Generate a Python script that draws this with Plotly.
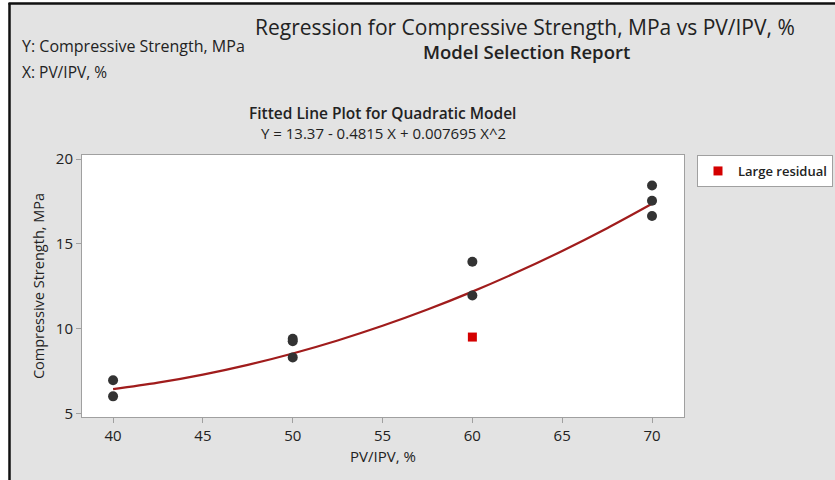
import plotly.graph_objects as go

# ---- data ----
pv_ipv = [40, 40, 50, 50, 50, 60, 60, 70, 70, 70]
strength = [6.95, 6.0, 9.4, 9.25, 8.3, 13.95, 11.95, 18.45, 17.55, 16.65]

resid_x = [60]
resid_y = [9.5]

fit_x = [40, 42.5, 45, 47.5, 50, 52.5, 55, 57.5, 60, 62.5, 65, 67.5, 70]
fit_y = [6.422, 6.805, 7.285, 7.861, 8.533, 9.301, 10.165, 11.125, 12.182, 13.335, 14.584, 15.929, 17.37]

x_ticks = [40, 45, 50, 55, 60, 65, 70]
y_ticks = [5, 10, 15, 20]

FONT = "Open Sans"
TXT = "#222222"
W, H = 835, 480
L, R, T, B = 82, 151, 155, 63
PW, PH = W - L - R, H - T - B


def px(xp):
    return (xp - L) / PW


def py(yp):
    return (H - B - yp) / PH


fig = go.Figure()

fig.add_trace(go.Scatter(
    x=fit_x, y=fit_y, mode="lines", line=dict(color="#A01C1C", width=2.2, shape="spline"),
    showlegend=False, hoverinfo="skip"))

fig.add_trace(go.Scatter(
    x=pv_ipv, y=strength, mode="markers",
    marker=dict(color="#333333", size=10, symbol="circle"),
    showlegend=False))

fig.add_trace(go.Scatter(
    x=resid_x, y=resid_y, mode="markers", name="Large residual",
    marker=dict(color="#D40000", size=9, symbol="square"),
    showlegend=True))

shapes = [
    # white margin strips and black frame lines
    dict(type="rect", xref="paper", yref="paper", x0=px(0), x1=px(8.5), y0=py(H), y1=py(0),
         fillcolor="white", line=dict(width=0), layer="above"),
    dict(type="rect", xref="paper", yref="paper", x0=px(0), x1=px(W), y0=py(2.5), y1=py(0),
         fillcolor="white", line=dict(width=0), layer="above"),
    dict(type="line", xref="paper", yref="paper", x0=px(9.5), x1=px(9.5), y0=py(H), y1=py(3),
         line=dict(color="#111111", width=2.5)),
    dict(type="line", xref="paper", yref="paper", x0=px(8.5), x1=px(W), y0=py(3.6), y1=py(3.6),
         line=dict(color="#111111", width=2.5)),
]

annotations = [
    dict(text="Regression for Compressive Strength, MPa vs PV/IPV, %", x=px(524.5), y=py(27),
         xref="paper", yref="paper", xanchor="center", yanchor="middle", showarrow=False,
         font=dict(family=FONT, size=21, color=TXT)),
    dict(text="Model Selection Report", x=px(526), y=py(52),
         xref="paper", yref="paper", xanchor="center", yanchor="middle", showarrow=False,
         font=dict(family=FONT, size=18.5, color=TXT, weight=600)),
    dict(text="Y: Compressive Strength, MPa", x=px(20), y=py(46),
         xref="paper", yref="paper", xanchor="left", yanchor="middle", showarrow=False,
         font=dict(family=FONT, size=16, color=TXT)),
    dict(text="X: PV/IPV, %", x=px(20), y=py(72),
         xref="paper", yref="paper", xanchor="left", yanchor="middle", showarrow=False,
         font=dict(family=FONT, size=15.5, color=TXT)),
    dict(text="Fitted Line Plot for Quadratic Model", x=px(382), y=py(113),
         xref="paper", yref="paper", xanchor="center", yanchor="middle", showarrow=False,
         font=dict(family=FONT, size=15.5, color=TXT, weight=600)),
    dict(text="Y = 13.37 - 0.4815 X + 0.007695 X^2", x=px(383), y=py(133),
         xref="paper", yref="paper", xanchor="center", yanchor="middle", showarrow=False,
         font=dict(family=FONT, size=15, color=TXT)),
]

fig.update_layout(
    width=W, height=H,
    margin=dict(l=L, r=R, t=T, b=B, pad=0, autoexpand=False),
    paper_bgcolor="#E3E3E3", plot_bgcolor="white",
    font=dict(family=FONT, size=12, color=TXT),
    shapes=shapes, annotations=annotations,
    showlegend=True,
    legend=dict(x=px(697), y=py(155), xanchor="left", yanchor="top",
                bgcolor="white", bordercolor="#A0A0A0", borderwidth=1,
                font=dict(family=FONT, size=13, color=TXT, weight=600),
                itemwidth=30, tracegroupgap=0),
    xaxis=dict(range=[38.27, 71.78], tickvals=x_ticks, ticktext=[str(v) for v in x_ticks],
               showgrid=False, zeroline=False, showline=True, linecolor="#A0A0A0", linewidth=1,
               mirror=True, ticks="outside", ticklen=5, tickcolor="#A0A0A0",
               tickfont=dict(family=FONT, size=15, color=TXT),
               title=dict(text="PV/IPV, %", font=dict(family=FONT, size=15, color=TXT), standoff=7)),
    yaxis=dict(range=[4.78, 20.25], tickvals=y_ticks, ticktext=[str(v) for v in y_ticks],
               showgrid=False, zeroline=False, showline=True, linecolor="#A0A0A0", linewidth=1,
               mirror=True, ticks="outside", ticklen=5, tickcolor="#A0A0A0",
               tickfont=dict(family=FONT, size=15, color=TXT),
               title=dict(text="Compressive Strength, MPa", font=dict(family=FONT, size=14.5, color=TXT), standoff=7)),
)

fig.write_html("out.html")
